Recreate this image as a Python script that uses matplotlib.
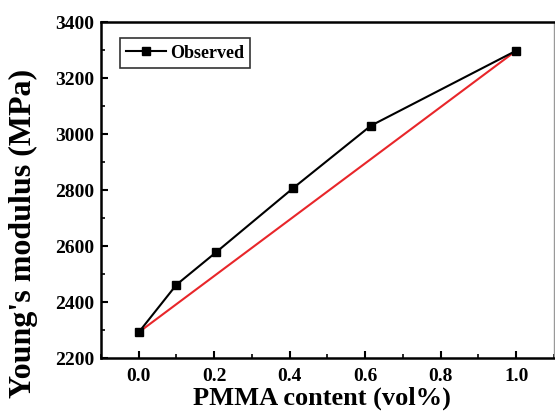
import matplotlib
matplotlib.use("Agg")
import matplotlib.pyplot as plt
from matplotlib.ticker import MultipleLocator, FormatStrFormatter

# ── Data ──────────────────────────────────────────────────────────
pmma_content = [0.0, 0.1, 0.205, 0.41, 0.615, 1.0]
observed_modulus = [2292, 2462, 2578, 2808, 3030, 3298]
mixture_x = [0.0, 1.0]
mixture_modulus = [2292, 3298]

plt.rcParams["font.family"] = ["Liberation Serif", "DejaVu Serif"]
plt.rcParams["font.weight"] = "bold"

fig = plt.figure(figsize=(5.55, 4.18), dpi=100)
ax = fig.add_axes([0.182, 0.1435, 0.816, 0.8035])

ax.plot(mixture_x, mixture_modulus, color="#e8262a", lw=1.5, zorder=2)
ax.plot(pmma_content, observed_modulus, color="black", lw=1.5, marker="s",
        markersize=5.5, label="Observed", zorder=3)

ax.set_xlim(-0.1, 1.1)
ax.set_ylim(2200, 3400)
ax.xaxis.set_major_locator(MultipleLocator(0.2))
ax.xaxis.set_minor_locator(MultipleLocator(0.1))
ax.yaxis.set_major_locator(MultipleLocator(200))
ax.yaxis.set_minor_locator(MultipleLocator(100))
ax.xaxis.set_major_formatter(FormatStrFormatter("%.1f"))

ax.tick_params(which="major", direction="in", length=5, width=1.5, labelsize=14)
ax.tick_params(which="minor", direction="in", length=3, width=1.2)
ax.tick_params(axis="x", which="major", pad=7)
ax.tick_params(axis="y", which="major", pad=5)
ax.tick_params(top=False, right=False)

for side in ["left", "bottom", "top"]:
    ax.spines[side].set_linewidth(1.8)
ax.spines["right"].set_linewidth(1.0)
ax.spines["right"].set_color("#999999")

ax.set_xlabel("PMMA content (vol%)", fontsize=19, fontweight="bold")
ax.set_ylabel("Young's modulus (MPa)", fontsize=23, fontweight="bold")
ax.xaxis.set_label_coords(0.488, -0.084)
ax.yaxis.set_label_coords(-0.14, 0.372)

leg = ax.legend(loc="upper left", fontsize=13, frameon=True, fancybox=False,
                edgecolor="black", handlelength=2.2, handletextpad=0.2,
                borderpad=0.35, borderaxespad=0.0,
                bbox_to_anchor=(0.042, 0.952))
leg.get_frame().set_linewidth(1.2)

fig.savefig("out.png", dpi=100)
